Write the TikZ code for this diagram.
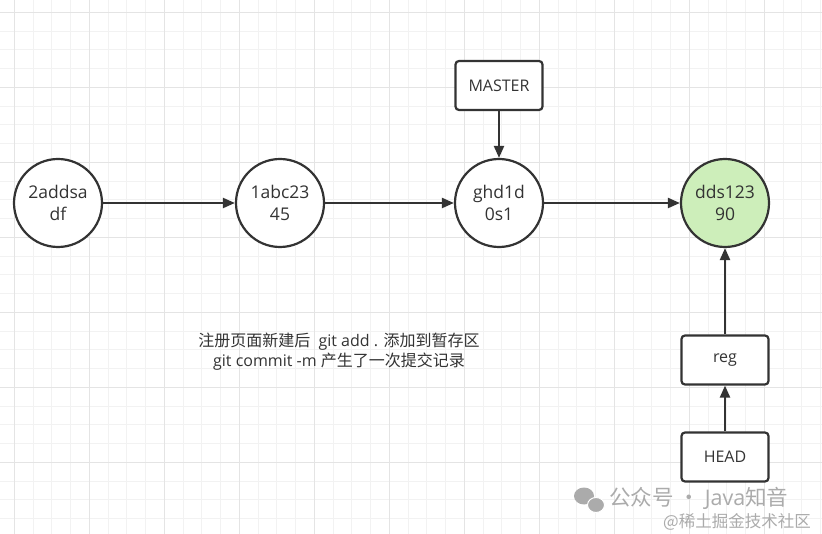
\documentclass[tikz,border=0pt]{standalone}
\usepackage{fontspec}
\setmainfont{Open Sans}
\newfontfamily\cjk{Noto Sans CJK SC}
\usetikzlibrary{arrows.meta}
\definecolor{ink}{HTML}{333333}
\definecolor{gridminor}{HTML}{F2F2F2}
\definecolor{gridmajor}{HTML}{E4E4E4}
\definecolor{headgreen}{HTML}{CDEEBA}
\definecolor{wmgrey}{HTML}{ABABAB}
\tikzset{
    commit/.style={circle, draw=ink, line width=2.2pt, fill=white, minimum size=88pt, inner sep=0pt,
        align=center, text=ink, font=\fontsize{17.5}{22}\selectfont},
    ref/.style={rectangle, rounded corners=3.5pt, draw=ink, line width=2.2pt, fill=white,
        minimum width=87pt, minimum height=49pt, text=ink, font=\fontsize{16}{18}\selectfont},
    link/.style={draw=ink, line width=2.2pt, -{Triangle[length=12pt, width=10pt]}},
}
\begin{document}
\begin{tikzpicture}[x=1pt, y=-1pt]
    \useasboundingbox (0,0) rectangle (822,534);
    \fill[white] (0,0) rectangle (822,534);

    % grid
    \foreach \k in {-1,...,43} \draw[gridminor, line width=0.7pt] ({14.3+18.75*\k}, 0) -- ++(0, 534);
    \foreach \k in {-1,...,28} \draw[gridminor, line width=0.7pt] (0, {12.3+18.75*\k}) -- ++(822, 0);
    \foreach \k in {0,...,10} \draw[gridmajor, line width=0.9pt] ({14.3+75*\k}, 0) -- ++(0, 534);
    \foreach \k in {0,...,7} \draw[gridmajor, line width=0.9pt] (0, {12.3+75*\k}) -- ++(822, 0);

    \node[commit] (first) at (58, 203) {2addsa\\df};
    \node[commit] (second) at (280, 203) {1abc23\\45};
    \node[commit] (third) at (499, 203) {ghd1d\\0s1};
    \node[commit, fill=headgreen] (fourth) at (725, 203) {dds123\\90};

    \node[ref] (master) at (499, 85.5) {MASTER};
    \node[ref] (reg) at (725, 360) {reg};
    \node[ref] (head) at (725, 457) {HEAD};

    \draw[link] (first) -- (second);
    \draw[link] (second) -- (third);
    \draw[link] (third) -- (fourth);
    \draw[link] (master) -- (third);
    \draw[link] (reg) -- (fourth);
    \draw[link] (head) -- (reg);

    \node[align=center, text=ink, font=\fontsize{16}{20}\selectfont] (note) at (339, 352)
        {{\cjk 注册页面新建后}\ \ git add . {\cjk 添加到暂存区}\\git commit -m {\cjk 产生了一次提交记录}};

    % watermark
    \fill[wmgrey] (584, 496) ellipse (10pt and 8.5pt);
    \fill[wmgrey, draw=white, line width=1pt] (596, 505) ellipse (8.5pt and 7.5pt);
    \node[anchor=west, inner sep=0pt, text=wmgrey, font=\cjk\fontsize{21.5}{21.5}\selectfont] (wm) at (609, 498) {公众号 · {\normalfont Java}知音};
    \node[anchor=west, inner sep=0pt, text=wmgrey, font=\cjk\fontsize{16.5}{16.5}\selectfont] (site) at (663, 522) {@稀土掘金技术社区};
\end{tikzpicture}
\end{document}
